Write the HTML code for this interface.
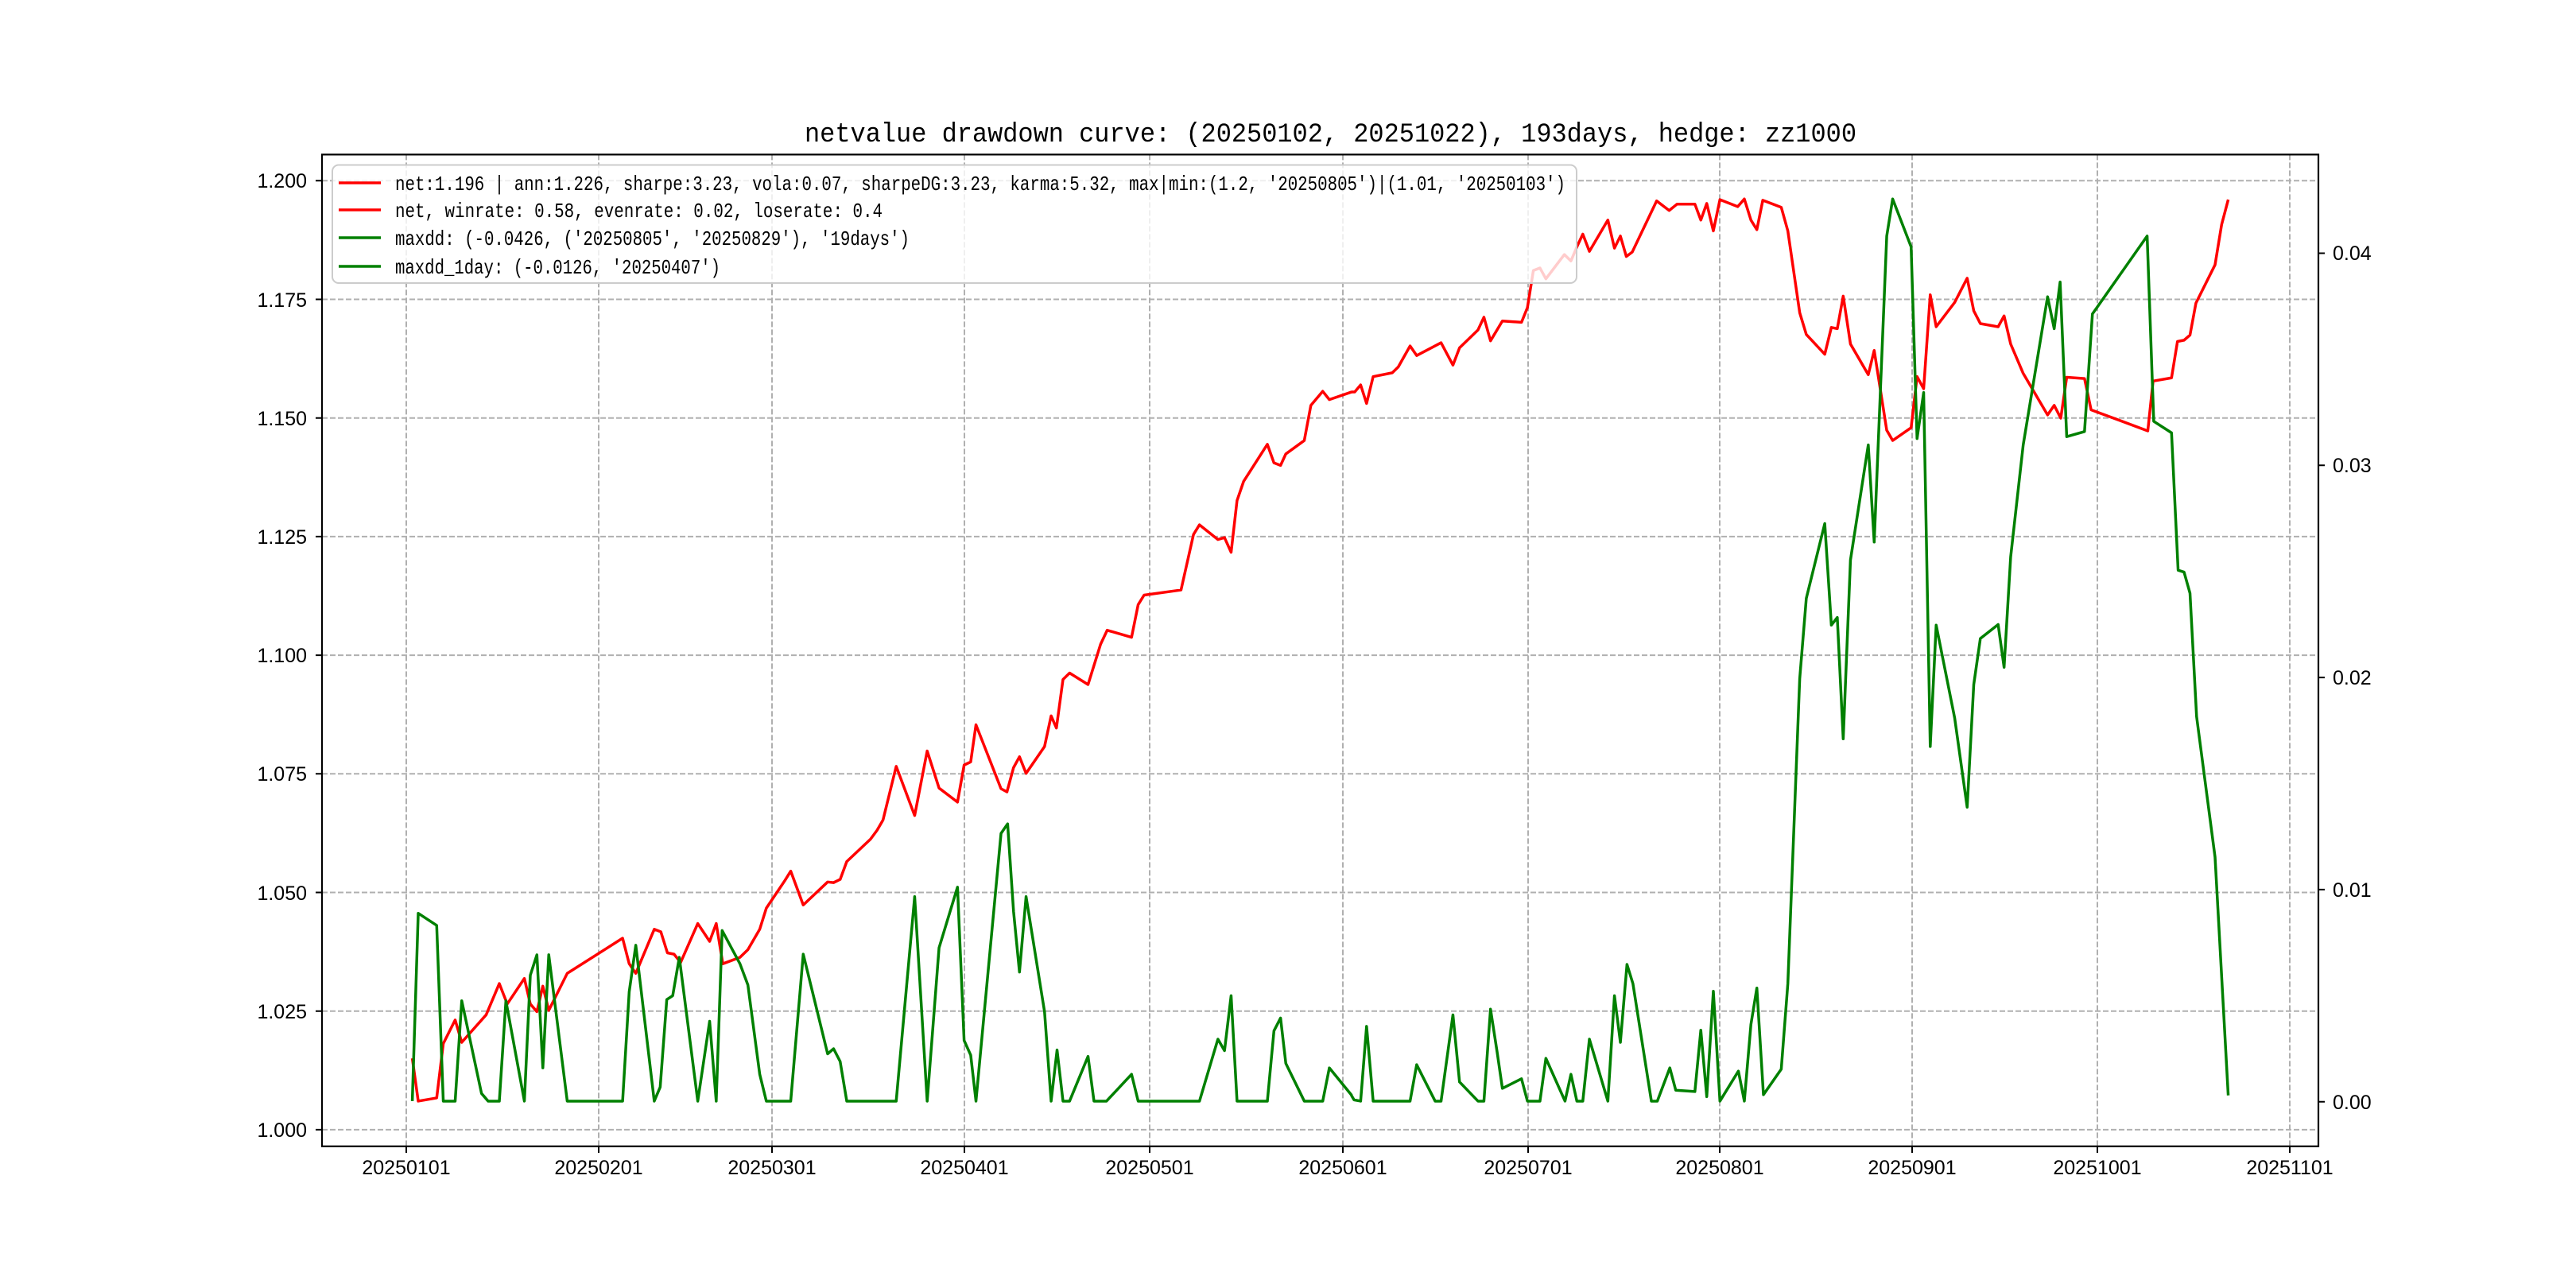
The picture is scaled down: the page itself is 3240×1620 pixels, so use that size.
<!DOCTYPE html>
<html><head><meta charset="utf-8"><style>html,body{margin:0;padding:0;background:#fff}svg{display:block}</style></head>
<body>
<svg width="3240" height="1620" viewBox="0 0 3240 1620" xmlns="http://www.w3.org/2000/svg" font-family="'Liberation Sans','WenQuanYi Zen Hei',sans-serif">
<rect width="3240" height="1620" fill="#fff"/>
<g stroke="#b0b0b0" stroke-width="2" stroke-dasharray="7,3" fill="none">
<path d="M405 1420.9H2916M405 1271.7H2916M405 1122.5H2916M405 973.3H2916M405 824.1H2916M405 674.9H2916M405 525.7H2916M405 376.5H2916M405 227.3H2916"/>
<path d="M511 194.4V1441.8M753 194.4V1441.8M971 194.4V1441.8M1213 194.4V1441.8M1446 194.4V1441.8M1689 194.4V1441.8M1922 194.4V1441.8M2163 194.4V1441.8M2405 194.4V1441.8M2638 194.4V1441.8M2880 194.4V1441.8"/>
</g>
<g transform="translate(400,190) scale(0.8292,0.8036)" fill="none" stroke-width="3.5" stroke-linejoin="round">
<polyline vector-effect="non-scaling-stroke" stroke="#ff0000" points="143,1420 152,1487 180,1482 190,1397 208,1360 218,1395 255,1352 275,1303 287,1335 313,1295 322,1335 332,1347 341,1307 350,1345 378,1287 462,1232 472,1272 482,1287 510,1218 520,1222 530,1255 540,1257 550,1270 576,1209 594,1237 604,1209 614,1272 640,1262 652,1250 670,1218 680,1185 708,1142 717,1127 736,1180 773,1144 782,1145 792,1140 802,1112 838,1077 848,1063 857,1047 877,963 905,1040 924,939 942,997 970,1019 980,961 990,956 998,898 1036,998 1045,1003 1055,965 1064,948 1074,974 1102,932 1112,884 1120,903 1130,827 1140,817 1168,835 1187,772 1197,750 1234,761 1244,710 1253,695 1309,687 1328,600 1337,585 1365,608 1375,605 1385,628 1394,547 1404,517 1440,459 1450,488 1460,492 1468,474 1496,453 1506,398 1524,376 1534,389 1568,377"/>
<polyline vector-effect="non-scaling-stroke" stroke="#008000" points="143,1487 152,1193 180,1212 190,1487 208,1487 218,1330 248,1475 258,1487 275,1487 285,1330 313,1487 322,1290 332,1258 341,1435 350,1258 378,1487 462,1487 472,1316 482,1243 510,1487 519,1465 529,1328 538,1322 548,1262 576,1487 594,1362 604,1487 613,1220 640,1272 652,1305 670,1445 680,1487 717,1487 736,1257 773,1413 782,1405 792,1425 802,1487 877,1487 905,1167 924,1487 942,1247 970,1152 980,1392 990,1415 998,1487 1036,1068 1046,1053 1055,1190 1064,1285 1074,1167 1102,1347 1112,1487 1121,1407 1130,1487 1140,1487 1168,1417 1177,1487 1196,1487 1234,1445 1244,1487 1337,1487 1365,1390 1375,1408 1385,1322 1394,1487 1440,1487 1450,1377 1460,1357 1468,1428 1496,1487 1524,1487 1534,1435 1568,1478"/>
</g>
<g transform="translate(1650,190) scale(0.8292,0.8036)" fill="none" stroke-width="3.5" stroke-linejoin="round">
<polyline vector-effect="non-scaling-stroke" stroke="#ff0000" points="60,377 65,377 74,366 83,395 93,353 122,347 131,338 149,305 159,320 196,300 214,335 224,308 252,280 261,260 271,297 289,266 318,268 327,245 336,187 346,183 355,200 383,162 393,172 402,150 411,130 421,157 449,108 459,152 468,133 477,165 486,158 523,78 542,93 554,83 581,83 590,108 599,82 609,125 619,76 646,87 656,75 666,108 675,123 684,77 712,88 722,125 740,253 750,287 778,318 788,276 797,278 806,227 817,302 844,350 853,312 872,437 881,453 909,433 918,353 928,372 938,225 947,275 975,237 994,199 1004,250 1014,270 1041,275 1050,258 1060,302 1079,348 1116,413 1126,398 1136,418 1145,354 1172,356 1182,405 1268,438 1276,360 1304,355 1313,298 1323,296 1332,288 1341,238 1370,178 1380,115 1390,76"/>
<polyline vector-effect="non-scaling-stroke" stroke="#008000" points="60,1478 64,1485 74,1487 83,1370 93,1487 149,1487 159,1430 187,1487 196,1487 214,1352 224,1457 252,1487 261,1487 271,1343 281,1410 289,1467 318,1452 327,1487 346,1487 355,1420 384,1487 393,1445 402,1487 411,1487 421,1390 449,1487 459,1322 468,1395 478,1273 487,1303 515,1487 524,1487 543,1435 552,1470 581,1472 590,1376 599,1480 609,1315 619,1487 647,1440 656,1487 666,1367 675,1310 685,1477 712,1437 722,1303 740,826 750,700 778,583 788,742 797,730 806,920 817,640 844,460 853,612 872,133 881,75 909,150 918,450 928,378 938,932 947,742 975,887 994,1027 1004,835 1014,763 1041,741 1050,808 1060,635 1079,460 1116,228 1126,278 1135,205 1145,447 1172,439 1184,255 1267,133 1277,423 1304,441 1314,656 1323,659 1332,692 1342,885 1370,1105 1390,1478"/>
</g>
<rect x="418" y="207.5" width="1565" height="148.5" rx="8" fill="#fff" fill-opacity="0.8" stroke="#cccccc" stroke-width="2"/>
<g stroke-width="3.5">
<line x1="426" y1="230" x2="479" y2="230" stroke="#ff0000"/>
<line x1="426" y1="264" x2="479" y2="264" stroke="#ff0000"/>
<line x1="426" y1="299" x2="479" y2="299" stroke="#008000"/>
<line x1="426" y1="335" x2="479" y2="335" stroke="#008000"/>
</g>
<g font-size="26" fill="#000" font-family="'Liberation Mono','WenQuanYi Zen Hei',monospace">
<text x="497" y="239" textLength="1472" lengthAdjust="spacingAndGlyphs">net:1.196 | ann:1.226, sharpe:3.23, vola:0.07, sharpeDG:3.23, karma:5.32, max|min:(1.2, '20250805')|(1.01, '20250103')</text>
<text x="497" y="273" textLength="613" lengthAdjust="spacingAndGlyphs">net, winrate: 0.58, evenrate: 0.02, loserate: 0.4</text>
<text x="497" y="308" textLength="647" lengthAdjust="spacingAndGlyphs">maxdd: (-0.0426, ('20250805', '20250829'), '19days')</text>
<text x="497" y="344" textLength="409" lengthAdjust="spacingAndGlyphs">maxdd_1day: (-0.0126, '20250407')</text>
</g>
<rect x="405" y="194.4" width="2511" height="1247.4" fill="none" stroke="#000" stroke-width="2.2"/>
<g stroke="#000" stroke-width="2">
<path d="M397 1420.9H405M397 1271.7H405M397 1122.5H405M397 973.3H405M397 824.1H405M397 674.9H405M397 525.7H405M397 376.5H405M397 227.3H405"/>
<path d="M2916 1385.7H2924M2916 1118.9H2924M2916 852.1H2924M2916 585.3H2924M2916 318.5H2924"/>
<path d="M511 1441.8V1450M753 1441.8V1450M971 1441.8V1450M1213 1441.8V1450M1446 1441.8V1450M1689 1441.8V1450M1922 1441.8V1450M2163 1441.8V1450M2405 1441.8V1450M2638 1441.8V1450M2880 1441.8V1450"/>
</g>
<g font-size="25" fill="#000" text-anchor="end">
<text x="386" y="1430">1.000</text><text x="386" y="1281">1.025</text><text x="386" y="1132">1.050</text><text x="386" y="982">1.075</text><text x="386" y="833">1.100</text><text x="386" y="684">1.125</text><text x="386" y="535">1.150</text><text x="386" y="386">1.175</text><text x="386" y="236">1.200</text>
</g>
<g font-size="25" fill="#000">
<text x="2934" y="1395">0.00</text><text x="2934" y="1128">0.01</text><text x="2934" y="861">0.02</text><text x="2934" y="594">0.03</text><text x="2934" y="327">0.04</text>
</g>
<g font-size="25" fill="#000" text-anchor="middle">
<text x="511" y="1477">20250101</text><text x="753" y="1477">20250201</text><text x="971" y="1477">20250301</text><text x="1213" y="1477">20250401</text><text x="1446" y="1477">20250501</text><text x="1689" y="1477">20250601</text><text x="1922" y="1477">20250701</text><text x="2163" y="1477">20250801</text><text x="2405" y="1477">20250901</text><text x="2638" y="1477">20251001</text><text x="2880" y="1477">20251101</text>
</g>
<text x="1012" y="178" font-size="34" textLength="1323" lengthAdjust="spacingAndGlyphs" font-family="'Liberation Mono','WenQuanYi Zen Hei',monospace">netvalue drawdown curve: (20250102, 20251022), 193days, hedge: zz1000</text>
</svg>
</body></html>
